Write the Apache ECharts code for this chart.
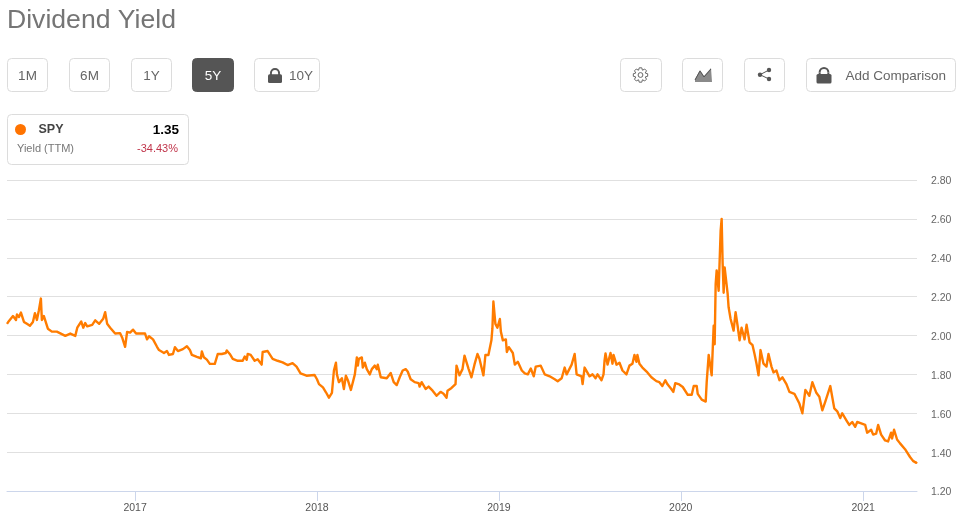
<!DOCTYPE html>
<html>
<head>
<meta charset="utf-8">
<style>html,body{margin:0;padding:0;background:#fff}#c{width:966px;height:522px}</style>
<script src="https://cdn.jsdelivr.net/npm/echarts@6/dist/echarts.min.js"></script>
</head>
<body>
<div id="c"></div>
<script>
const chartTitle = 'Dividend Yield';
const rangeLabels = ['1M','6M','1Y','5Y','10Y'];
const activeRange = '5Y';
const ticker = 'SPY';
const lastValue = '1.35';
const metricName = 'Yield (TTM)';
const changeText = '-34.43%';
const comparisonLabel = 'Add Comparison';
const tickYears = [2017,2018,2019,2020,2021];
const yMin = 1.2, yMax = 2.8, yStep = 0.2;

const dates = [
'2016-04-19','2016-04-23','2016-04-27','2016-05-01','2016-05-03','2016-05-07','2016-05-09','2016-05-13','2016-05-17','2016-05-19','2016-05-23','2016-05-29','2016-06-04','2016-06-08','2016-06-10','2016-06-14','2016-06-18','2016-06-22','2016-06-26','2016-06-28','2016-07-02','2016-07-06','2016-07-10','2016-07-18','2016-07-28','2016-08-01','2016-08-08','2016-08-14','2016-08-24','2016-08-28','2016-09-03','2016-09-07','2016-09-11','2016-09-15','2016-09-19','2016-09-23','2016-09-27','2016-10-07','2016-10-13','2016-10-21','2016-10-29','2016-11-02','2016-11-06','2016-11-12','2016-11-22','2016-11-26','2016-12-02','2016-12-06','2016-12-12','2016-12-16','2016-12-22','2016-12-28',
'2017-01-03','2017-01-15','2017-01-21','2017-01-25','2017-01-29','2017-02-06','2017-02-14','2017-02-18','2017-02-20','2017-02-28','2017-03-06','2017-03-10','2017-03-18','2017-03-22','2017-03-26','2017-03-28','2017-04-07','2017-04-15','2017-04-21','2017-04-25','2017-05-05','2017-05-13','2017-05-15','2017-05-19','2017-05-25','2017-05-31','2017-06-10','2017-06-14','2017-06-16','2017-06-24','2017-06-26','2017-07-02','2017-07-04','2017-07-10','2017-07-16','2017-07-26','2017-08-05','2017-08-09','2017-08-13','2017-08-15','2017-08-21','2017-08-29','2017-09-04','2017-09-12','2017-09-14','2017-09-24','2017-10-04','2017-10-14','2017-10-24','2017-11-03','2017-11-13','2017-11-21','2017-11-29','2017-12-03','2017-12-11','2017-12-27',
'2018-01-01','2018-01-05','2018-01-07','2018-01-13','2018-01-19','2018-01-25','2018-01-31','2018-02-04','2018-02-08','2018-02-10','2018-02-14','2018-02-20','2018-02-24','2018-02-28','2018-03-04','2018-03-10','2018-03-14','2018-03-18','2018-03-22','2018-03-24','2018-03-26','2018-04-01','2018-04-03','2018-04-07','2018-04-11','2018-04-17','2018-04-21','2018-04-23','2018-04-27','2018-05-01','2018-05-03','2018-05-09','2018-05-13','2018-05-21','2018-05-29','2018-06-04','2018-06-10','2018-06-16','2018-06-22','2018-06-28','2018-07-02','2018-07-08','2018-07-16','2018-07-24','2018-07-26','2018-07-30','2018-08-07','2018-08-13','2018-08-21','2018-08-29','2018-09-06','2018-09-12','2018-09-18','2018-09-20','2018-09-28','2018-10-02','2018-10-06','2018-10-08','2018-10-14','2018-10-20','2018-10-24','2018-10-28','2018-11-01','2018-11-07','2018-11-13','2018-11-19','2018-11-23','2018-12-01','2018-12-05','2018-12-11','2018-12-17','2018-12-19','2018-12-21','2018-12-23','2018-12-25','2018-12-29',
'2019-01-03','2019-01-05','2019-01-09','2019-01-15','2019-01-17','2019-01-21','2019-01-29','2019-02-02','2019-02-08','2019-02-16','2019-02-22','2019-02-28','2019-03-06','2019-03-12','2019-03-16','2019-03-20','2019-03-26','2019-04-03','2019-04-13','2019-04-23','2019-04-29','2019-05-07','2019-05-13','2019-05-17','2019-05-27','2019-06-02','2019-06-06','2019-06-16','2019-06-18','2019-06-22','2019-06-26','2019-07-02','2019-07-08','2019-07-14','2019-07-18','2019-07-26','2019-07-30','2019-08-01','2019-08-03','2019-08-07','2019-08-13','2019-08-17','2019-08-19','2019-08-25','2019-08-31','2019-09-06','2019-09-14','2019-09-16','2019-09-20','2019-09-26','2019-09-30','2019-10-04','2019-10-06','2019-10-10','2019-10-16','2019-10-26','2019-11-03','2019-11-13','2019-11-19','2019-11-25','2019-12-01','2019-12-05','2019-12-13','2019-12-17','2019-12-21','2019-12-29',
'2020-01-05','2020-01-15','2020-01-23','2020-01-27','2020-02-02','2020-02-04','2020-02-12','2020-02-20','2020-02-22','2020-02-26','2020-03-03','2020-03-07','2020-03-09','2020-03-11','2020-03-13','2020-03-17','2020-03-21','2020-03-23','2020-03-25','2020-03-27','2020-03-29','2020-04-02','2020-04-04','2020-04-06','2020-04-10','2020-04-12','2020-04-16','2020-04-20','2020-04-24','2020-04-28','2020-05-02','2020-05-04','2020-05-08','2020-05-12','2020-05-18','2020-05-24','2020-05-28','2020-06-01','2020-06-05','2020-06-09','2020-06-15','2020-06-21','2020-06-25','2020-07-01','2020-07-05','2020-07-11','2020-07-17','2020-07-23','2020-07-31','2020-08-06','2020-08-16','2020-08-20','2020-08-26','2020-09-01','2020-09-07','2020-09-15','2020-09-21','2020-09-29','2020-10-05','2020-10-11','2020-10-17','2020-10-21','2020-10-27','2020-10-29','2020-11-04','2020-11-10','2020-11-16','2020-11-20','2020-11-28','2020-12-04','2020-12-10','2020-12-16','2020-12-20',
'2021-01-05','2021-01-09','2021-01-17','2021-01-21','2021-01-27','2021-01-31','2021-02-06','2021-02-14','2021-02-20','2021-02-26','2021-02-28','2021-03-04','2021-03-10','2021-03-16','2021-03-20','2021-03-26','2021-03-30','2021-04-05','2021-04-11','2021-04-17','2021-04-19'
];
const yields = [
2.06,2.075,2.065,2.10,2.108,2.08,2.108,2.095,2.118,2.115,2.07,2.06,2.05,2.04,2.07,2.115,2.08,2.13,2.19,2.08,2.10,2.09,2.035,2.02,2.02,2.027,2.006,1.998,2.01,2.013,1.998,2.04,2.03,2.072,2.04,2.064,2.047,2.055,2.078,2.06,2.086,2.12,2.06,2.04,2.01,2.00,2.012,1.99,1.942,2.018,2.015,2.03,
2.01,2.01,2.01,1.98,1.996,1.98,1.942,1.925,1.923,1.91,1.92,1.90,1.905,1.94,1.94,1.92,1.93,1.945,1.925,1.90,1.89,1.883,1.918,1.888,1.876,1.854,1.854,1.854,1.905,1.905,1.913,1.91,1.923,1.905,1.88,1.87,1.87,1.892,1.875,1.905,1.90,1.87,1.878,1.85,1.915,1.92,1.88,1.87,1.862,1.848,1.858,1.84,1.805,1.815,1.793,1.797,
1.775,1.75,1.754,1.733,1.708,1.68,1.705,1.82,1.86,1.80,1.76,1.78,1.725,1.793,1.77,1.72,1.73,1.80,1.887,1.845,1.88,1.887,1.835,1.86,1.827,1.80,1.827,1.82,1.845,1.827,1.85,1.785,1.79,1.78,1.807,1.76,1.745,1.785,1.82,1.827,1.815,1.775,1.76,1.755,1.737,1.76,1.725,1.737,1.716,1.69,1.71,1.70,1.68,1.716,1.73,1.72,1.75,1.845,1.795,1.827,1.896,1.905,1.83,1.785,1.85,1.905,1.88,1.795,1.90,1.90,1.975,2.035,2.175,2.18,2.06,2.04,
2.085,2.02,1.975,1.98,1.915,1.94,1.91,1.85,1.865,1.82,1.805,1.80,1.83,1.79,1.84,1.85,1.845,1.80,1.79,1.775,1.765,1.78,1.835,1.80,1.85,1.905,1.80,1.79,1.75,1.835,1.845,1.79,1.80,1.78,1.80,1.77,1.80,1.87,1.908,1.85,1.91,1.855,1.90,1.85,1.86,1.82,1.80,1.80,1.845,1.855,1.90,1.865,1.90,1.855,1.835,1.81,1.785,1.765,1.76,1.74,1.77,1.75,1.725,1.71,1.755,1.748,
1.735,1.695,1.695,1.74,1.74,1.70,1.67,1.66,1.76,1.90,1.795,2.05,1.955,2.265,2.335,2.23,2.54,2.60,2.37,2.22,2.35,2.34,2.215,2.145,2.085,2.095,2.025,2.12,2.05,1.975,2.04,2.04,1.98,2.055,1.965,1.95,1.905,1.855,1.795,1.925,1.855,1.84,1.905,1.84,1.81,1.82,1.77,1.785,1.75,1.71,1.70,1.695,1.65,1.60,1.72,1.69,1.76,1.705,1.685,1.615,1.66,1.655,1.74,1.735,1.625,1.61,1.575,1.60,1.565,1.54,1.555,1.53,1.555,
1.54,1.50,1.515,1.49,1.495,1.54,1.49,1.46,1.455,1.50,1.47,1.515,1.465,1.445,1.45,1.415,1.41,1.375,1.355,1.345,1.35
];

const FONT = '"Liberation Sans", Arial, sans-serif';

function box(x, y, w, h, active) {
  return {type:'rect', silent:true, shape:{x:x+0.5, y:y+0.5, width:w-1, height:h-1, r:4},
    style:{fill:active?'#555555':'#ffffff', stroke:active?'#555555':'#dcdcdc', lineWidth:1}};
}
function label(x, y, text, font, fill, align) {
  return {type:'text', silent:true, x:x, y:y, style:{text:text, font:font, fill:fill, align:align||'left', verticalAlign:'middle'}};
}
function lockIcon(x, y, w, h) {
  const c = x + w/2, r = w*0.29, top = y + r + 1, bodyY = y + h*0.42;
  const st = {fill:'none', stroke:'#555555', lineWidth:2};
  return [
    {type:'arc', silent:true, shape:{cx:c, cy:top, r:r, startAngle:Math.PI, endAngle:2*Math.PI}, style:st},
    {type:'line', silent:true, shape:{x1:c-r, y1:top, x2:c-r, y2:bodyY+1}, style:st},
    {type:'line', silent:true, shape:{x1:c+r, y1:top, x2:c+r, y2:bodyY+1}, style:st},
    {type:'rect', silent:true, shape:{x:x, y:bodyY, width:w, height:y+h-bodyY, r:1.5}, style:{fill:'#555555'}}
  ];
}
function gearPoints(cx, cy, r1, r2) {
  const n = 8, out = [];
  for (let i = 0; i < n; i++) {
    const a = i * 2 * Math.PI / n, w = Math.PI / n;
    [[r1, a-w*0.95],[r2, a-w*0.45],[r2, a+w*0.45],[r1, a+w*0.95]].forEach(p =>
      out.push([cx + p[0]*Math.sin(p[1]), cy - p[0]*Math.cos(p[1])]));
  }
  return out;
}

const btnX = {'1M':[7,41],'6M':[69,41],'1Y':[131,41],'5Y':[192,42],'10Y':[254,66]};
const gfx = [];
rangeLabels.forEach(n => {
  const [x,w] = btnX[n];
  const on = n === activeRange;
  gfx.push(box(x,58,w,34,on));
  if (n === '10Y') {
    gfx.push(...lockIcon(268,68,14,15));
    gfx.push(label(289,76.5,n,'13.5px '+FONT,'#666666'));
  } else {
    gfx.push(label(x+w/2,76.5,n,'13.5px '+FONT,on?'#ffffff':'#666666','center'));
  }
});
gfx.push(box(620,58,42,34));
gfx.push({type:'polygon', silent:true, shape:{points:gearPoints(640.5,75,5.2,7.3)}, style:{fill:'none', stroke:'#666666', lineWidth:1}});
gfx.push({type:'circle', silent:true, shape:{cx:640.5,cy:75,r:2.4}, style:{fill:'none', stroke:'#666666', lineWidth:1}});
gfx.push(box(682,58,41,34));
gfx.push({type:'polygon', silent:true, shape:{points:[[695,82],[695,79],[700,70],[704,76],[711,68],[712,82]]}, style:{fill:'#8a8a8a'}});
gfx.push({type:'polyline', silent:true, shape:{points:[[695,80],[700,71],[704,77],[711,69]]}, style:{fill:'none', stroke:'#555555', lineWidth:1}});
gfx.push(box(744,58,41,34));
gfx.push({type:'polyline', silent:true, shape:{points:[[769,70],[760,74.7],[769,79]]}, style:{fill:'none', stroke:'#555555', lineWidth:1}});
[[760,74.7],[769,70],[769,79]].forEach(p => gfx.push({type:'circle', silent:true, shape:{cx:p[0],cy:p[1],r:2.2}, style:{fill:'#555555'}}));
gfx.push(box(806,58,150,34));
gfx.push(...lockIcon(816.5,67,15,16.5));
gfx.push(label(845.5,76.5,comparisonLabel,'13.5px '+FONT,'#666666'));

gfx.push(box(7,114,182,51));
gfx.push({type:'circle', silent:true, shape:{cx:20.5,cy:129.5,r:5.5}, style:{fill:'#ff7300'}});
gfx.push(label(38.5,130,ticker,'bold 12.5px '+FONT,'#444444'));
gfx.push(label(179,130,lastValue,'bold 13.5px '+FONT,'#000000','right'));
gfx.push(label(17,148.5,metricName,'11px '+FONT,'#777777'));
gfx.push(label(178,148.5,changeText,'11px '+FONT,'#c0344a','right'));
gfx.push(label(7,20.5,chartTitle,'26.6px '+FONT,'#757575'));

const chart = echarts.init(document.getElementById('c'), null, {renderer:'canvas'});
const toTime = d => echarts.time.parse(d).getTime();
const yearTicks = tickYears.map(y => toTime(y + '-01-01'));
chart.setOption({
  animation:false,
  backgroundColor:'#ffffff',
  graphic:{elements:gfx},
  grid:{left:7, right:49, top:180, bottom:31, containLabel:false},
  xAxis:{
    type:'value',
    min:toTime(dates[0]), max:toTime(dates[dates.length-1]),
    axisLine:{show:true, onZero:false, lineStyle:{color:'#ccd6eb', width:1}},
    axisTick:{show:true, length:10, lineStyle:{color:'#ccd6eb'}, customValues:yearTicks},
    axisLabel:{customValues:yearTicks, color:'#555555', fontSize:10.5, fontFamily:FONT, margin:12,
      formatter:v => String(new Date(v).getFullYear()), hideOverlap:false},
    splitLine:{show:false}, minorTick:{show:false}
  },
  yAxis:{
    type:'value', position:'right',
    min:yMin, max:yMax, interval:yStep,
    axisLine:{show:false}, axisTick:{show:false},
    axisLabel:{color:'#666666', fontSize:10.5, fontFamily:FONT, margin:14, verticalAlign:'top', lineHeight:3, formatter:v => v.toFixed(2)},
    splitLine:{show:true, lineStyle:{color:'#e0e0e0', width:1}}
  },
  series:[{
    type:'line', name:ticker, showSymbol:false, symbol:'none', smooth:false,
    data:dates.map((d,i) => [toTime(d), yields[i]]),
    lineStyle:{color:'#ff7c00', width:2.4, join:'round'},
    itemStyle:{color:'#ff7c00'}
  }]
});
</script>
</body>
</html>
